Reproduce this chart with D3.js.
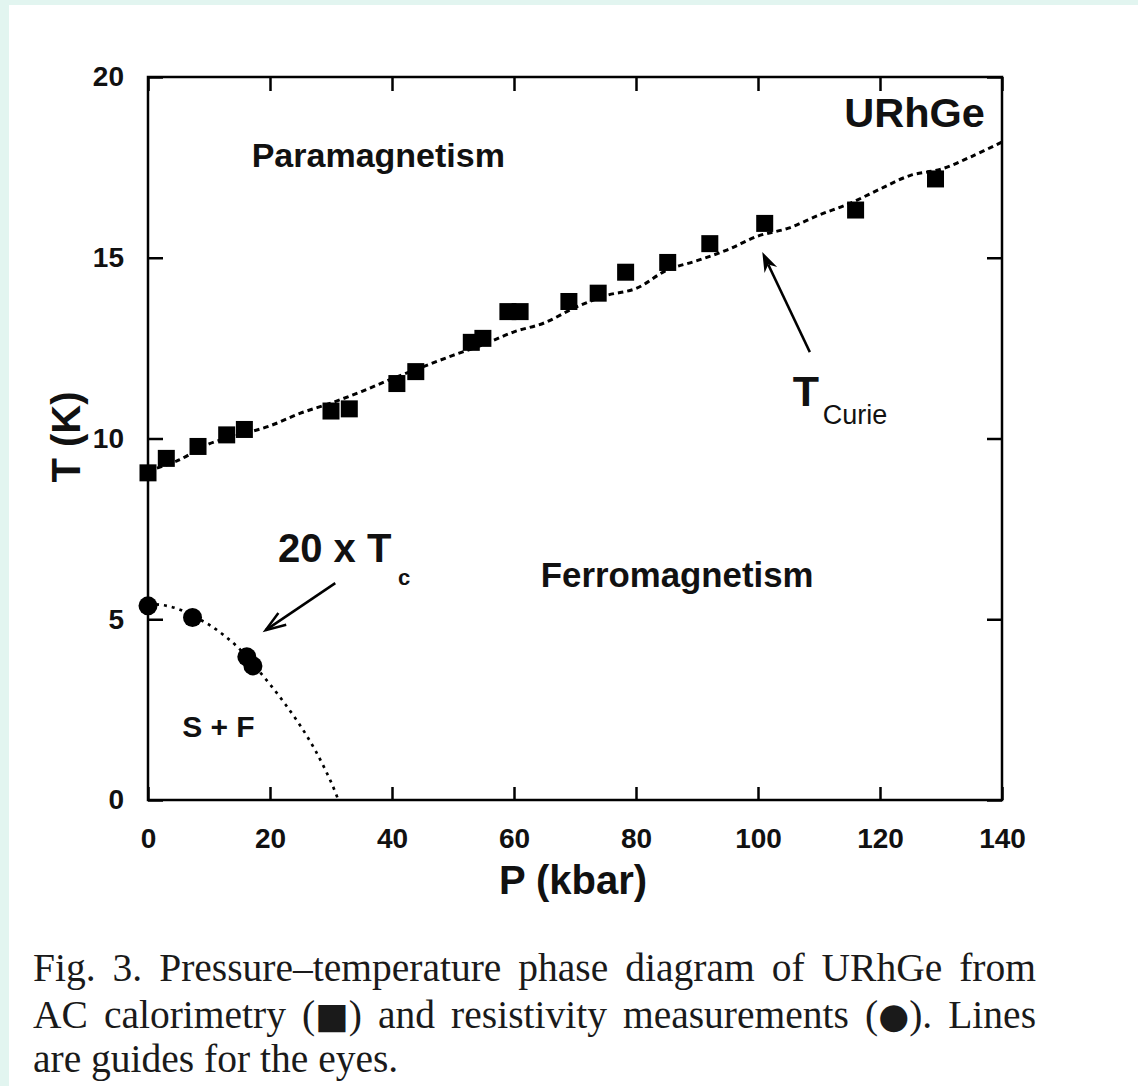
<!DOCTYPE html>
<html>
<head>
<meta charset="utf-8">
<script src="https://cdn.jsdelivr.net/npm/d3@7"></script>
<style>
  html, body { margin: 0; padding: 0; background: #ffffff; }
  svg { display: block; }
</style>
</head>
<body>
<svg id="chart" width="1138" height="1086"></svg>
<script>
// AC calorimetry: Curie temperature vs pressure
const calorimetryP = [0, 3.0, 8.2, 12.9, 15.8, 30.0, 33.0, 40.8, 43.9, 53.0, 54.9, 59.0, 61.0, 69.0, 73.8, 78.3, 85.2, 92.1, 101.1, 116.0, 129.1];
const calorimetryT = [9.05, 9.45, 9.78, 10.10, 10.25, 10.76, 10.82, 11.52, 11.85, 12.66, 12.77, 13.51, 13.51, 13.79, 14.02, 14.60, 14.87, 15.39, 15.95, 16.32, 17.18];

// Resistivity: superconducting transition, plotted as 20 x Tc
const resistivityP = [0, 7.3, 16.2, 17.2];
const resistivityT = [5.37, 5.05, 3.96, 3.71];

// Guide-for-the-eye lines
const curieGuideP = [0, 5, 10, 15, 20, 25, 30, 35, 40, 45, 50, 55, 60, 65, 70, 75, 80, 85, 90, 95, 100, 105, 110, 115, 120, 125, 130, 135, 140];
const curieGuideT = [9.1, 9.4, 9.85, 10.1, 10.35, 10.7, 10.98, 11.3, 11.65, 11.98, 12.3, 12.6, 12.95, 13.2, 13.62, 13.95, 14.15, 14.65, 14.92, 15.22, 15.6, 15.82, 16.18, 16.5, 16.9, 17.28, 17.45, 17.8, 18.2];
const tcGuideP = [0, 2.5, 5, 7.5, 10, 12.5, 15, 17.5, 20, 22.5, 25, 27.5, 30, 31.2];
const tcGuideT = [5.42, 5.39, 5.28, 5.08, 4.85, 4.55, 4.18, 3.7, 3.2, 2.65, 2.05, 1.35, 0.5, 0];

// Axis ticks
const pTicks = [0, 20, 40, 60, 80, 100, 120, 140];
const tTicks = [0, 5, 10, 15, 20];

// Caption lines; symbols are marked so they can be drawn in a different font
const caption = [
  [["Fig. 3. Pressure\u2013temperature phase diagram of URhGe from", false]],
  [["AC calorimetry (", false], ["\u25A0", true], [") and resistivity measurements (", false], ["\u25CF", true], ["). Lines", false]],
  [["are guides for the eyes.", false]]
];

const svg = d3.select("#chart");
const W = 1138, H = 1086;

// page background with tinted border
svg.append("rect").attr("width", W).attr("height", H).attr("fill", "#e2f5f0");
svg.append("rect").attr("x", 9).attr("y", 5).attr("width", W - 9).attr("height", H - 5).attr("fill", "#ffffff");

const plot = { left: 148, right: 1002, top: 77, bottom: 800 };
const x = d3.scaleLinear().domain([0, 140]).range([plot.left, plot.right]);
const y = d3.scaleLinear().domain([0, 20]).range([plot.bottom, plot.top]);

const sans = "'Liberation Sans', Arial, sans-serif";
const serif = "'Liberation Serif', 'Times New Roman', serif";

// axes: inward ticks on all four sides
const axisStyle = g => {
  g.select(".domain").remove();
  g.selectAll(".tick line").attr("stroke", "#000").attr("stroke-width", 2.5);
  g.selectAll(".tick text").attr("fill", "#111").attr("font-family", sans)
    .attr("font-weight", "bold").attr("font-size", 28);
};
svg.append("g").attr("transform", `translate(0,${plot.bottom})`)
  .call(d3.axisBottom(x).tickValues(pTicks).tickSize(-13).tickPadding(28).tickFormat(d3.format("d")))
  .call(axisStyle);
svg.append("g").attr("transform", `translate(0,${plot.top})`)
  .call(d3.axisTop(x).tickValues(pTicks).tickSize(-14).tickFormat(""))
  .call(axisStyle);
svg.append("g").attr("transform", `translate(${plot.left},0)`)
  .call(d3.axisLeft(y).tickValues(tTicks).tickSize(-15).tickPadding(24).tickFormat(d3.format("d")))
  .call(axisStyle);
svg.append("g").attr("transform", `translate(${plot.right},0)`)
  .call(d3.axisRight(y).tickValues(tTicks).tickSize(-15).tickFormat(""))
  .call(axisStyle);

// frame
svg.append("rect")
  .attr("x", plot.left).attr("y", plot.top)
  .attr("width", plot.right - plot.left).attr("height", plot.bottom - plot.top)
  .attr("fill", "none").attr("stroke", "#000").attr("stroke-width", 2.5);

// axis titles
svg.append("text").attr("x", 573).attr("y", 894).attr("text-anchor", "middle")
  .attr("font-family", sans).attr("font-weight", "bold").attr("font-size", 40).attr("fill", "#111")
  .text("P (kbar)");
svg.append("text").attr("transform", "translate(80,437) rotate(-90)").attr("text-anchor", "middle")
  .attr("font-family", sans).attr("font-weight", "bold").attr("font-size", 40).attr("fill", "#111")
  .text("T (K)");

// guide lines
const line = d3.line().x(d => x(d[0])).y(d => y(d[1])).curve(d3.curveCatmullRom.alpha(0.5));
svg.append("path").datum(d3.zip(curieGuideP, curieGuideT)).attr("d", line)
  .attr("fill", "none").attr("stroke", "#000").attr("stroke-width", 3).attr("stroke-dasharray", "5.5,4");
svg.append("path").datum(d3.zip(tcGuideP, tcGuideT)).attr("d", line)
  .attr("fill", "none").attr("stroke", "#000").attr("stroke-width", 2.7).attr("stroke-dasharray", "3,5");

// data markers
const sq = 17;
svg.append("g").selectAll("rect").data(d3.zip(calorimetryP, calorimetryT)).join("rect")
  .attr("x", d => x(d[0]) - sq / 2).attr("y", d => y(d[1]) - sq / 2)
  .attr("width", sq).attr("height", sq).attr("fill", "#000");
svg.append("g").selectAll("circle").data(d3.zip(resistivityP, resistivityT)).join("circle")
  .attr("cx", d => x(d[0])).attr("cy", d => y(d[1])).attr("r", 9.5).attr("fill", "#000");

// region labels
const label = (px, py, txt, size, weight, anchor) =>
  svg.append("text").attr("x", x(px)).attr("y", y(py)).attr("text-anchor", anchor || "start")
    .attr("font-family", sans).attr("font-weight", weight).attr("font-size", size).attr("fill", "#111").text(txt);

label(17.0, 17.50, "Paramagnetism", 34, "bold");
label(64.4, 5.88, "Ferromagnetism", 34.8, "bold");
label(137.2, 18.62, "URhGe", 41.5, "bold", "end");
label(5.6, 1.74, "S + F", 30, "bold");
label(21.3, 6.57, "20 x T", 40, "bold");
label(41.0, 5.95, "c", 22, "bold");
label(105.7, 10.9, "T", 43, "bold");
label(110.6, 10.4, "Curie", 27, "normal");

// arrows
const curieTail = [108.5, 12.39], curieTip = [100.7, 15.16];
const tcTail = [30.7, 6.0], tcTip = [19.3, 4.70];

function arrow(tail, tip, filled) {
  const x0 = x(tail[0]), y0 = y(tail[1]), x1 = x(tip[0]), y1 = y(tip[1]);
  const ang = Math.atan2(y1 - y0, x1 - x0);
  const L = 20, Wd = 7;
  const bx = x1 - L * Math.cos(ang), by = y1 - L * Math.sin(ang);
  const px = -Math.sin(ang), py = Math.cos(ang);
  svg.append("line").attr("x1", x0).attr("y1", y0)
    .attr("x2", filled ? bx + 6 * Math.cos(ang) : x1).attr("y2", filled ? by + 6 * Math.sin(ang) : y1)
    .attr("stroke", "#000").attr("stroke-width", 2.5);
  if (filled) {
    const nx = x1 - (L - 6) * Math.cos(ang), ny = y1 - (L - 6) * Math.sin(ang);
    svg.append("path")
      .attr("d", `M${x1},${y1}L${bx + Wd * px},${by + Wd * py}L${nx},${ny}L${bx - Wd * px},${by - Wd * py}Z`)
      .attr("fill", "#000");
  } else {
    svg.append("path")
      .attr("d", `M${bx + Wd * px},${by + Wd * py}L${x1},${y1}L${bx - Wd * px},${by - Wd * py}`)
      .attr("fill", "none").attr("stroke", "#000").attr("stroke-width", 2.5);
  }
}
arrow(curieTail, curieTip, true);
arrow(tcTail, tcTip, false);

// caption: justified lines by widening the word gaps
const capY = [981, 1028, 1072];
const capLeft = 33, capRight = 1036;
caption.forEach((parts, i) => {
  const el = svg.append("text").attr("x", capLeft).attr("y", capY[i])
    .attr("font-family", serif).attr("font-size", 39.5).attr("fill", "#1a1a1a");
  parts.forEach(([t, sym]) => {
    const ts = el.append("tspan").text(t);
    if (sym) ts.attr("font-size", "0.9em").attr("font-family", "'DejaVu Sans', sans-serif");
  });
  if (i < 2) {
    const natural = el.node().getComputedTextLength();
    const gaps = parts.map(p => p[0]).join("").split(" ").length - 1;
    el.attr("word-spacing", (capRight - capLeft - natural) / gaps);
  }
});
</script>
</body>
</html>
